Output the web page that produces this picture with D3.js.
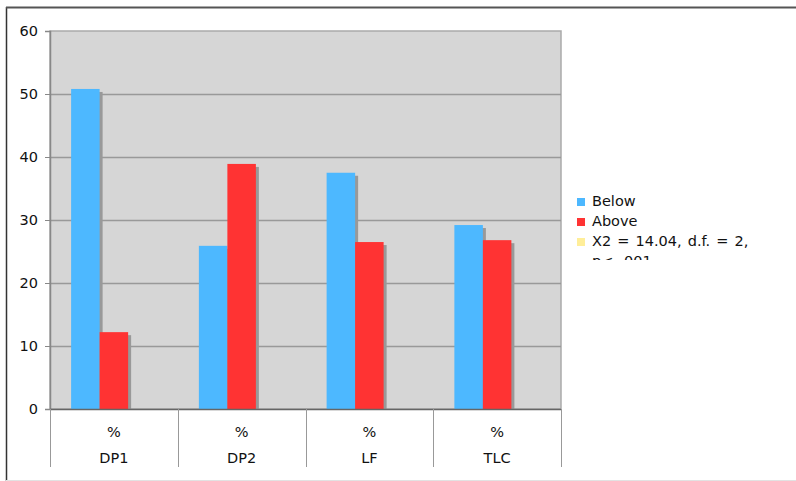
<!DOCTYPE html>
<html>
<head>
<meta charset="utf-8">
<script src="https://cdn.jsdelivr.net/npm/d3@7"></script>
<style>
  html, body { margin: 0; padding: 0; background: #fff; }
  svg { display: block; font-family: "DejaVu Sans", Verdana, sans-serif; }
</style>
</head>
<body>
<svg id="chart" width="796" height="481"></svg>
<script>
// Chart data
const categories = ["DP1", "DP2", "LF", "TLC"];
const unitLabel = "%";
const seriesNames = ["Below", "Above", "X2 = 14.04, d.f. = 2, p< .001"];
const below = [50.8, 25.9, 37.5, 29.2];
const above = [12.2, 38.9, 26.5, 26.8];
const stat = [null, null, null, null];
const yTicks = [0, 10, 20, 30, 40, 50, 60];

const colors = ["#4db8ff", "#ff3333", "#ffee99"];
const seriesValues = [below, above, stat];

const svg = d3.select("#chart");

// outer frame
svg.append("line").attr("x1", 6.5).attr("x2", 6.5).attr("y1", 7).attr("y2", 481)
  .attr("stroke", "#333").attr("stroke-width", 1.5);
svg.append("line").attr("x1", 6).attr("x2", 796).attr("y1", 7.5).attr("y2", 7.5)
  .attr("stroke", "#555").attr("stroke-width", 2);
svg.append("line").attr("x1", 6).attr("x2", 796).attr("y1", 480.5).attr("y2", 480.5)
  .attr("stroke", "#e2e2e2").attr("stroke-width", 1);

const plot = { left: 50, right: 561, top: 31, bottom: 409 };

const x = d3.scaleBand().domain(categories).range([plot.left, plot.right]).padding(0);
const xs = d3.scaleBand().domain(seriesNames).range([0, x.bandwidth()])
  .paddingInner(0).paddingOuter(0.741);
const y = d3.scaleLinear().domain([0, 60]).range([plot.bottom, plot.top]);

// plot background
svg.append("rect")
  .attr("x", plot.left).attr("y", plot.top)
  .attr("width", plot.right - plot.left).attr("height", plot.bottom - plot.top)
  .attr("fill", "#d6d6d6").attr("stroke", "#aaa").attr("stroke-width", 1.5);

// gridlines
svg.append("g").selectAll("line").data(yTicks.filter(d => d > 0 && d < 60)).join("line")
  .attr("x1", plot.left).attr("x2", plot.right)
  .attr("y1", d => Math.round(y(d)) + 0.5).attr("y2", d => Math.round(y(d)) + 0.5)
  .attr("stroke", "#999").attr("stroke-width", 1.5);

// bars with drop shadow
const rows = [];
categories.forEach((c, i) => {
  seriesNames.forEach((s, j) => {
    const v = seriesValues[j][i];
    if (v != null) rows.push({ c, s, v, color: colors[j] });
  });
});

const bars = svg.append("g");
bars.selectAll("rect.shadow").data(rows).join("rect")
  .attr("class", "shadow")
  .attr("x", d => x(d.c) + xs(d.s) + 3)
  .attr("y", d => y(d.v) + 3)
  .attr("width", xs.bandwidth())
  .attr("height", d => plot.bottom - y(d.v) - 3)
  .attr("fill", "#999");
bars.selectAll("rect.bar").data(rows).join("rect")
  .attr("class", "bar")
  .attr("x", d => x(d.c) + xs(d.s))
  .attr("y", d => y(d.v))
  .attr("width", xs.bandwidth())
  .attr("height", d => plot.bottom - y(d.v))
  .attr("fill", d => d.color);

// y axis
const yAxis = d3.axisLeft(y).tickValues(yTicks).tickSize(5).tickPadding(7);
const ya = svg.append("g").attr("transform", `translate(${plot.left},0)`).call(yAxis);
ya.select(".domain").attr("stroke", "#888").attr("stroke-width", 1.5);
ya.selectAll(".tick line").attr("stroke", "#888");
ya.selectAll(".tick text").attr("font-size", 14.5).attr("fill", "#111")
  .attr("font-family", "DejaVu Sans, Verdana, sans-serif");

// x baseline
svg.append("line").attr("x1", plot.left).attr("x2", plot.right)
  .attr("y1", plot.bottom + 0.5).attr("y2", plot.bottom + 0.5)
  .attr("stroke", "#666").attr("stroke-width", 1.5);

// category separators and labels
const seps = categories.map(c => x(c)).concat([plot.right]);
svg.append("g").selectAll("line").data(seps).join("line")
  .attr("x1", d => Math.round(d) + 0.5).attr("x2", d => Math.round(d) + 0.5)
  .attr("y1", plot.bottom).attr("y2", 467)
  .attr("stroke", "#999").attr("stroke-width", 1);

const cl = svg.append("g").attr("font-size", 14.5).attr("fill", "#111").attr("text-anchor", "middle");
cl.selectAll("text.unit").data(categories).join("text")
  .attr("class", "unit")
  .attr("x", d => x(d) + x.bandwidth() / 2).attr("y", 437)
  .text(unitLabel);
cl.selectAll("text.cat").data(categories).join("text")
  .attr("class", "cat")
  .attr("x", d => x(d) + x.bandwidth() / 2).attr("y", 463)
  .text(d => d);

// legend (last entry wraps and is clipped by the legend box)
svg.append("defs").append("clipPath").attr("id", "legclip")
  .append("rect").attr("x", 570).attr("y", 185).attr("width", 226).attr("height", 75);

const legendLines = [
  { color: colors[0], lines: [seriesNames[0]] },
  { color: colors[1], lines: [seriesNames[1]] },
  { color: colors[2], lines: ["X2 = 14.04, d.f. = 2,", "p< .001"] }
];
const leg = svg.append("g").attr("clip-path", "url(#legclip)");
legendLines.forEach((e, i) => {
  const base = 206 + i * 20;
  leg.append("rect").attr("x", 577).attr("y", base - 8).attr("width", 8).attr("height", 8)
    .attr("fill", e.color);
  e.lines.forEach((t, k) => {
    leg.append("text").attr("x", 592).attr("y", base + k * 20)
      .attr("font-size", 14.5).attr("word-spacing", 1.5).attr("fill", "#111").text(t);
  });
});
</script>
</body>
</html>
